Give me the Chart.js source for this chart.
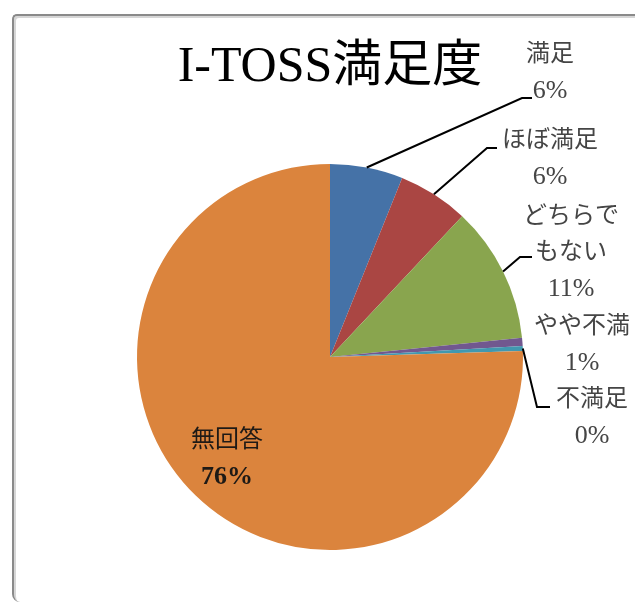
<!DOCTYPE html>
<html lang="ja">
<head>
    <meta charset="UTF-8">
    <title>I-TOSS満足度</title>
    <script src="https://cdn.jsdelivr.net/npm/chart.js"></script>
    <style>
        body {
            margin: 0;
            background: #fff;
            overflow: hidden;
        }
        #wrap {
            position: relative;
            width: 635px;
            height: 608px;
        }
        #frame {
            position: absolute;
            left: 12px;
            top: 14px;
            width: 700px;
            height: 586px;
            border-top: 2px solid #8a8a8a;
            border-left: 2px solid #8a8a8a;
            border-top-left-radius: 5px;
            border-bottom-left-radius: 8px;
            box-shadow: inset 2px 2px 0 #d6d6d6;
        }
        canvas {
            position: absolute;
            left: 0;
            top: 0;
        }
    </style>
</head>
<body>
<div id="wrap">
    <div id="frame"></div>
    <canvas id="pieChart" width="635" height="608"></canvas>
</div>

<script>
    // data (percent of answers)
    const categories = ['満足', 'ほぼ満足', 'どちらでもない', 'やや不満', '不満足', '無回答'];
    const values = [6.1, 5.9, 11.4, 0.7, 0.4, 75.5];
    const colors = ['#4572A7', '#AA4643', '#89A54E', '#71588F', '#4198AF', '#DB843D'];

    // label layout: text lines, label centre (offset from pie centre), leader elbow + end
    const labelLayout = [
        { lines: ['満足'], dx: 220, dy: -302, elbow: [192, -259], end: [202, -259] },
        { lines: ['ほぼ満足'], dx: 220, dy: -216, elbow: [157, -209], end: [167, -209] },
        { lines: ['どちらで', 'もない'], dx: 241, dy: -140, elbow: [190, -100], end: [202, -100] },
        { lines: ['やや不満'], dx: 252, dy: -30, elbow: null, end: null },
        { lines: ['不満足'], dx: 262, dy: 43, elbow: [207, 50], end: [220, 50] },
        { lines: ['無回答'], dx: -103, dy: 84, elbow: null, end: null, inside: true }
    ];

    const fontFamily = "'Liberation Serif', 'Noto Sans CJK JP', serif";
    const lineGap = 36;

    const labelPlugin = {
        id: 'pieLabels',
        afterDatasetsDraw(chart) {
            const ctx = chart.ctx;
            const meta = chart.getDatasetMeta(0);
            const total = values.reduce((a, b) => a + b, 0);
            ctx.save();
            meta.data.forEach((arc, i) => {
                const lay = labelLayout[i];
                const cx = arc.x, cy = arc.y;
                const mid = (arc.startAngle + arc.endAngle) / 2;
                const r = arc.outerRadius;

                // leader line
                if (lay.elbow) {
                    ctx.beginPath();
                    ctx.strokeStyle = '#000';
                    ctx.lineWidth = 2;
                    ctx.moveTo(cx + r * Math.cos(mid), cy + r * Math.sin(mid));
                    ctx.lineTo(cx + lay.elbow[0], cy + lay.elbow[1]);
                    ctx.lineTo(cx + lay.end[0], cy + lay.end[1]);
                    ctx.stroke();
                }

                // text
                const pct = Math.round(values[i] / total * 100) + '%';
                const lines = lay.lines.concat([pct]);
                ctx.textAlign = 'center';
                ctx.textBaseline = 'middle';
                lines.forEach((t, k) => {
                    const isPct = k === lines.length - 1;
                    ctx.fillStyle = lay.inside ? '#1e1a16' : '#454545';
                    const weight = (isPct && lay.inside) ? 'bold ' : '';
                    ctx.font = weight + (isPct ? '26px ' : '24px ') + fontFamily;
                    ctx.fillText(t, cx + lay.dx, cy + lay.dy + k * lineGap);
                });
            });
            ctx.restore();
        }
    };

    new Chart(document.getElementById('pieChart'), {
        type: 'pie',
        data: {
            labels: categories,
            datasets: [{
                data: values,
                backgroundColor: colors,
                borderWidth: 0
            }]
        },
        options: {
            responsive: false,
            animation: false,
            layout: {
                padding: { left: 137, right: 112, top: 10, bottom: 58 }
            },
            plugins: {
                legend: { display: false },
                tooltip: { enabled: false },
                title: {
                    display: true,
                    text: 'I-TOSS満足度',
                    color: '#000',
                    font: { family: fontFamily, size: 50, weight: 'normal', lineHeight: 1.2 },
                    padding: { top: 28, bottom: 66 }
                }
            }
        },
        plugins: [labelPlugin]
    });
</script>
</body>
</html>
